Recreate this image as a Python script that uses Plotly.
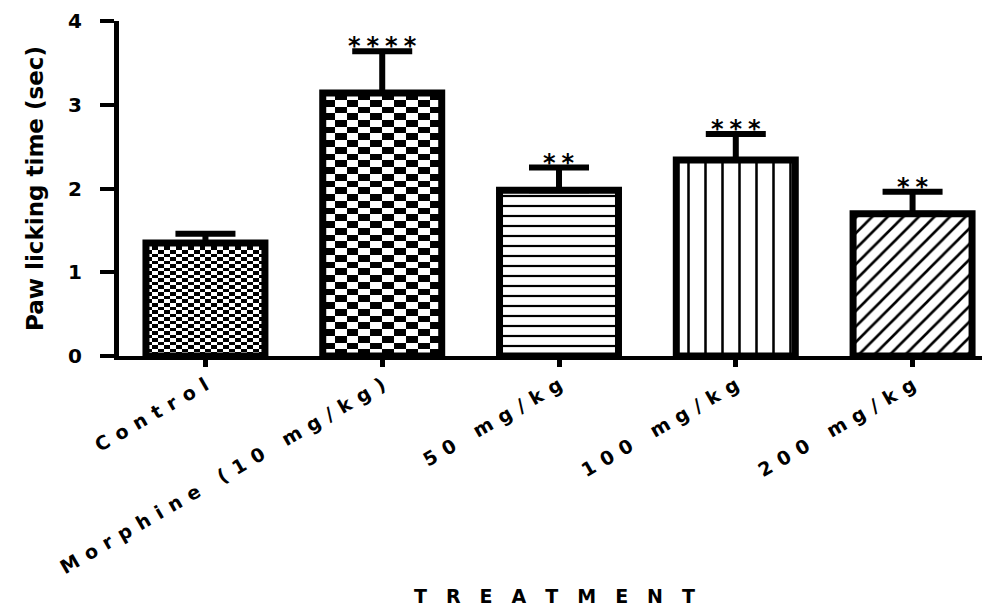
import numpy as np
import plotly.graph_objects as go

# ---- data ----
categories = ["Control", "Morphine (10 mg/kg)", "50 mg/kg", "100 mg/kg", "200 mg/kg"]
means = [1.35, 3.14, 1.98, 2.34, 1.70]
sems = [0.11, 0.50, 0.27, 0.31, 0.26]
stars = ["", "****", "**", "***", "**"]
y_ticks = [0, 1, 2, 3, 4]
y_title = "Paw licking time (sec)"
x_title = "TREATMENT"

# ---- style ----
BAR_W = 0.673
FONT = "DejaVu Sans"
patterns = ["checker", "checker", "-", "|", "/"]
pat_size = [0, 0, 10, 17, 11]
pat_solid = [0, 0, 0.22, 0.15, 0.24]
checker_cells = {0: (0.034, 0.042), 1: (0.067, 0.080)}


def spaced(s, gap):
    return gap.join(list(s))


xpos = list(range(len(categories)))
fig = go.Figure()

# checkerboard fills (drawn beneath the bar outlines)
for i, (cw, ch) in checker_cells.items():
    ncol = int(round(BAR_W / cw))
    nrow = int(round(means[i] / ch))
    xe = np.linspace(xpos[i] - BAR_W / 2, xpos[i] + BAR_W / 2, ncol + 1)
    ye = np.linspace(0, means[i], nrow + 1)
    z = (np.add.outer(np.arange(nrow), np.arange(ncol)) % 2).astype(float)
    fig.add_trace(go.Heatmap(
        x=xe, y=ye, z=z, zmin=0, zmax=1,
        colorscale=[[0, "white"], [1, "black"]],
        showscale=False, hoverinfo="skip", zsmooth=False,
    ))

for i in xpos:
    if patterns[i] == "checker":
        marker = dict(color="rgba(0,0,0,0)", line=dict(color="black", width=7))
    else:
        marker = dict(
            color="white", line=dict(color="black", width=7), opacity=1,
            pattern=dict(shape=patterns[i], size=pat_size[i], solidity=pat_solid[i],
                         fgcolor="black", bgcolor="white", fgopacity=1,
                         fillmode="replace"),
        )
    fig.add_trace(go.Bar(
        x=[xpos[i]], y=[means[i]], width=BAR_W, marker=marker,
        error_y=dict(type="data", array=[sems[i]], arrayminus=[0], symmetric=False,
                     color="black", thickness=6, width=30),
        hoverinfo="skip",
    ))

for i, s in enumerate(stars):
    if s:
        fig.add_annotation(
            x=xpos[i], y=means[i] + sems[i], text=spaced(s, "\u2005"),
            showarrow=False, yanchor="bottom", yshift=-11,
            font=dict(family=FONT, size=24, color="black", weight="bold"),
        )

fig.update_layout(
    width=982, height=599,
    margin=dict(l=111, r=0, t=13, b=251, autoexpand=False),
    plot_bgcolor="white", paper_bgcolor="white",
    showlegend=False, barmode="overlay",
    font=dict(family=FONT, color="black"),
)

fig.update_xaxes(
    type="linear", range=[-0.489, 4.438],
    tickvals=xpos, ticktext=[spaced(c, "\u2004\u200a") for c in categories],
    tickangle=-30,
    tickfont=dict(family=FONT, size=19, color="black", weight="bold"),
    ticks="outside", ticklen=7, tickwidth=5, tickcolor="black",
    showline=True, linewidth=4, linecolor="black",
    showgrid=False, zeroline=False, automargin=False,
    title=dict(text=spaced(x_title, "\u2003"), standoff=14,
               font=dict(family=FONT, size=19, color="black", weight="bold")),
)

fig.update_yaxes(
    range=[0, 4], tickvals=y_ticks, ticktext=[str(v) for v in y_ticks],
    tickfont=dict(family=FONT, size=20, color="black", weight="bold"),
    ticks="outside", ticklen=14, tickwidth=4, tickcolor="black",
    ticklabelstandoff=14,
    showline=True, linewidth=5, linecolor="black",
    showgrid=False, zeroline=False, automargin=False,
    title=dict(text=y_title, standoff=20,
               font=dict(family=FONT, size=23, color="black", weight="bold")),
)

fig.write_html("out.html")
